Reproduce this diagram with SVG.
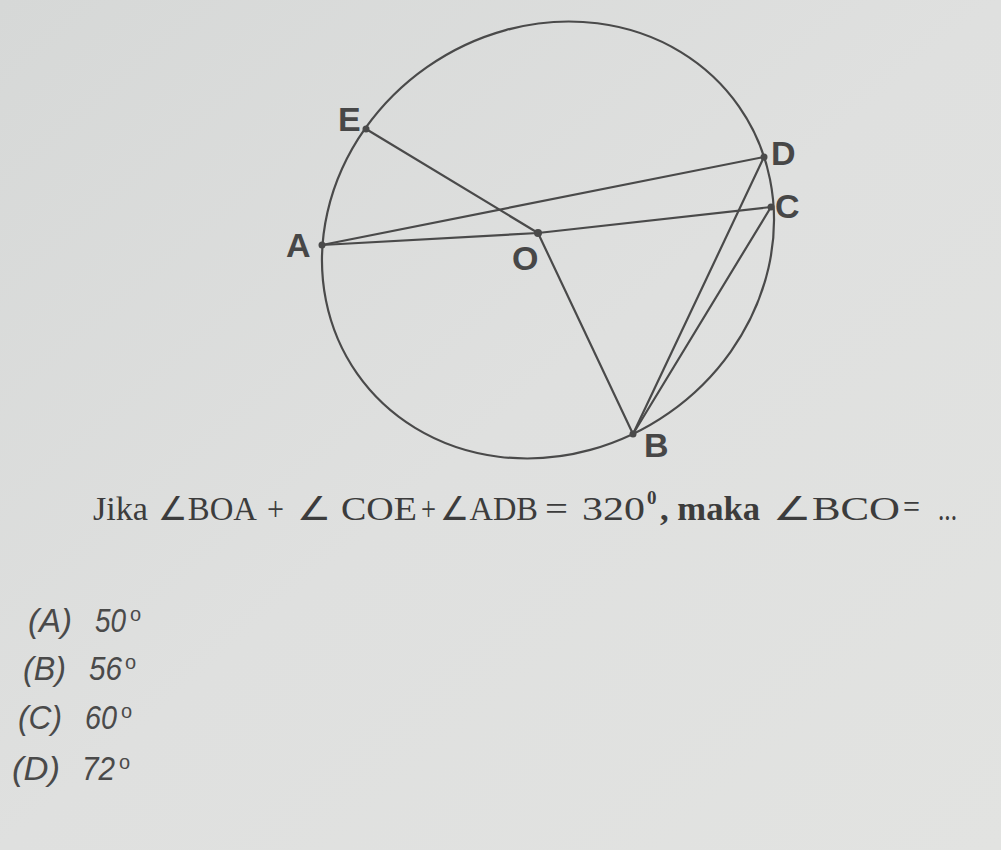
<svg xmlns="http://www.w3.org/2000/svg" width="1001" height="850" viewBox="0 0 1001 850">
<defs>
<linearGradient id="bg" x1="0" y1="0" x2="1" y2="1">
<stop offset="0" stop-color="#d6d8d7"/>
<stop offset="0.5" stop-color="#dfe0df"/>
<stop offset="1" stop-color="#e2e3e1"/>
</linearGradient>
<style>
.ln{stroke:#4a4a4a;stroke-width:2.2;fill:none;stroke-linecap:round}
.pt{fill:#4a4a4a}
.lbl{font-family:"Liberation Sans",Arial,sans-serif;font-weight:bold;font-size:34px;fill:#474747}
.q{font-family:"Liberation Serif","Times New Roman",serif;font-size:33px;fill:#3c3c3c}
.qs{font-family:"Liberation Serif","Times New Roman",serif;font-size:19px;fill:#3c3c3c;font-weight:bold}
.b{font-weight:bold}
.opt{font-family:"Liberation Sans",Arial,sans-serif;font-size:33px;fill:#4a4a4a;font-style:italic}
.sup{font-family:"Liberation Sans",Arial,sans-serif;font-size:20px;fill:#4a4a4a}
</style>
</defs>
<rect width="1001" height="850" fill="url(#bg)"/>
<g id="circle">
<ellipse class="ln" cx="548" cy="240" rx="233" ry="211" transform="rotate(-35 548 240)"/>
</g>
<g id="connectors">
<line class="ln" x1="366" y1="129" x2="538" y2="233"/>
<line class="ln" x1="322" y1="245" x2="764" y2="157"/>
<line class="ln" x1="322" y1="245" x2="538" y2="233"/>
<line class="ln" x1="538" y1="233" x2="771" y2="207"/>
<line class="ln" x1="538" y1="233" x2="633" y2="434"/>
<line class="ln" x1="764" y1="157" x2="633" y2="434"/>
<line class="ln" x1="771" y1="207" x2="633" y2="434"/>
</g>
<g id="node-E"><circle class="pt" cx="366" cy="129" r="3.5"/><text class="lbl" x="338" y="131">E</text></g>
<g id="node-A"><circle class="pt" cx="322" cy="245" r="3.5"/><text class="lbl" x="286" y="257">A</text></g>
<g id="node-O"><circle class="pt" cx="538" cy="233" r="4"/><text class="lbl" x="512" y="270">O</text></g>
<g id="node-D"><circle class="pt" cx="764" cy="157" r="3.5"/><text class="lbl" x="771" y="165">D</text></g>
<g id="node-C"><circle class="pt" cx="771" cy="207" r="3.5"/><text class="lbl" x="775" y="218">C</text></g>
<g id="node-B"><circle class="pt" cx="633" cy="434" r="3.5"/><text class="lbl" x="644" y="457">B</text></g>
<g id="question">
<text class="q" x="93" y="520" textLength="55" lengthAdjust="spacingAndGlyphs">Jika</text>
<text class="q" x="158" y="520" textLength="99" lengthAdjust="spacingAndGlyphs">∠BOA</text>
<text class="q" x="267" y="520" textLength="17" lengthAdjust="spacingAndGlyphs">+</text>
<text class="q" x="297" y="520" textLength="120" lengthAdjust="spacingAndGlyphs">∠ COE</text>
<text class="q" x="421" y="520" textLength="15" lengthAdjust="spacingAndGlyphs">+</text>
<text class="q" x="440" y="520" textLength="98" lengthAdjust="spacingAndGlyphs">∠ADB</text>
<text class="q" x="545" y="520" textLength="23" lengthAdjust="spacingAndGlyphs">=</text>
<text class="q" x="582" y="520" textLength="63" lengthAdjust="spacingAndGlyphs">320</text>
<text class="qs" x="647" y="504">0</text>
<text class="q b" x="660" y="520" textLength="100" lengthAdjust="spacingAndGlyphs">, maka</text>
<text class="q" x="773" y="520" textLength="127" lengthAdjust="spacingAndGlyphs">∠BCO</text>
<text class="q" x="903" y="518" textLength="17" lengthAdjust="spacingAndGlyphs">=</text>
<text class="q" x="938" y="520" textLength="19" lengthAdjust="spacingAndGlyphs">...</text>
</g>
<g id="options">
<text class="opt" x="28" y="632" textLength="44" lengthAdjust="spacingAndGlyphs">(A)</text><text class="opt" x="95" y="632" textLength="31" lengthAdjust="spacingAndGlyphs">50</text><text class="sup" x="130" y="621">o</text>
<text class="opt" x="23" y="680" textLength="43" lengthAdjust="spacingAndGlyphs">(B)</text><text class="opt" x="89" y="680" textLength="33" lengthAdjust="spacingAndGlyphs">56</text><text class="sup" x="125" y="669">o</text>
<text class="opt" x="18" y="729" textLength="44" lengthAdjust="spacingAndGlyphs">(C)</text><text class="opt" x="85" y="729" textLength="32" lengthAdjust="spacingAndGlyphs">60</text><text class="sup" x="121" y="718">o</text>
<text class="opt" x="12" y="780" textLength="48" lengthAdjust="spacingAndGlyphs">(D)</text><text class="opt" x="82" y="780" textLength="33" lengthAdjust="spacingAndGlyphs">72</text><text class="sup" x="119" y="769">o</text>
</g>
</svg>
